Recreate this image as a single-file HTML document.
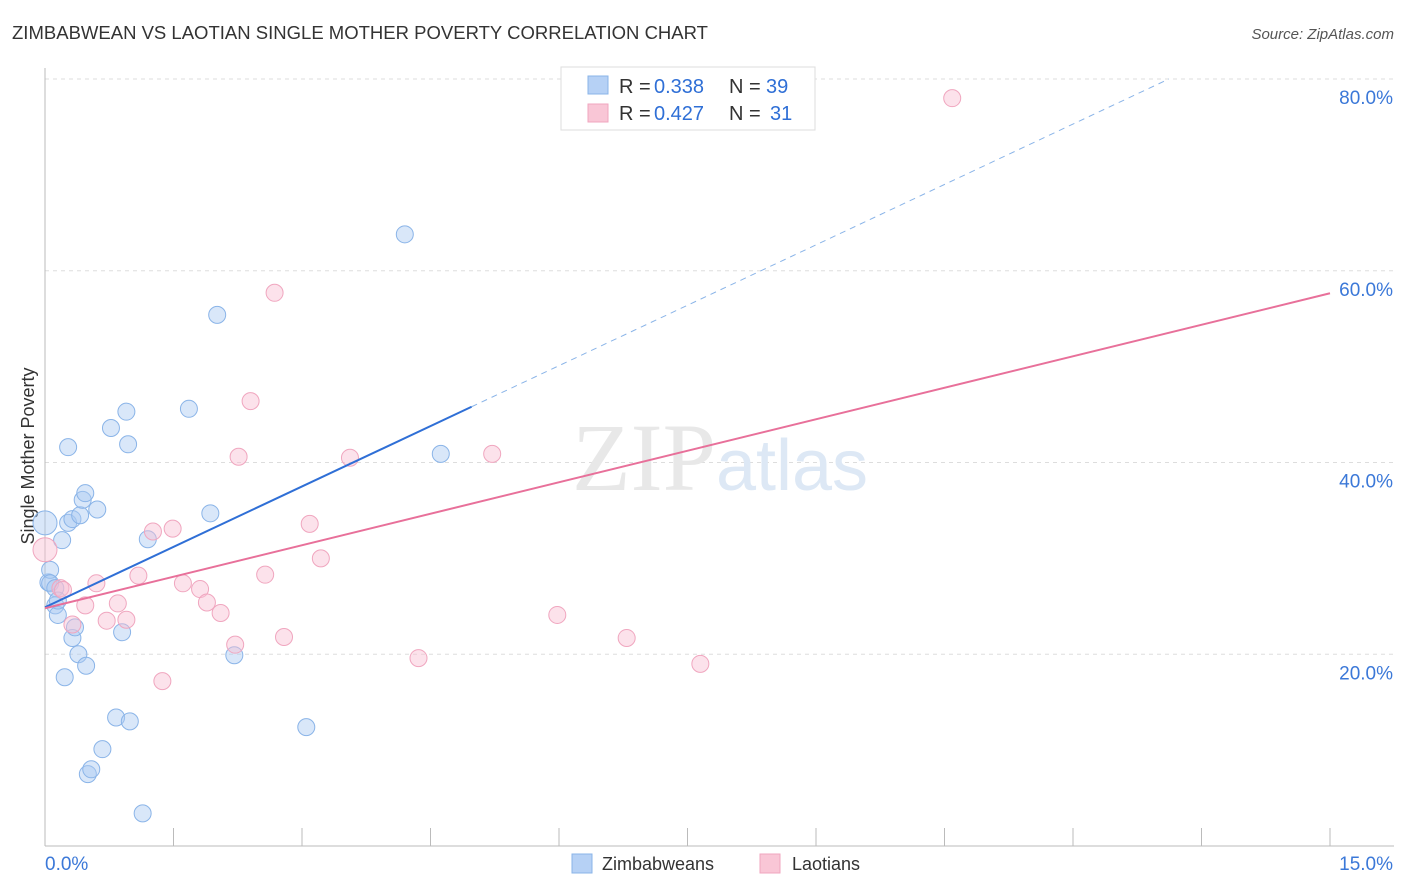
<!DOCTYPE html>
<html><head><meta charset="utf-8"><style>
body{margin:0;background:#fff;font-family:"Liberation Sans",sans-serif;}
</style></head><body>
<svg id="chart" width="1406" height="892" xmlns="http://www.w3.org/2000/svg" style="display:block" font-family="Liberation Sans, sans-serif">
<text x="12" y="39" font-size="18" fill="#333" textLength="696" lengthAdjust="spacingAndGlyphs">ZIMBABWEAN VS LAOTIAN SINGLE MOTHER POVERTY CORRELATION CHART</text>
<text x="1394" y="39" font-size="15" fill="#555" text-anchor="end" font-style="italic">Source: ZipAtlas.com</text>
<g id="grid"></g>
<text x="720" y="490" font-size="96" text-anchor="middle" fill="#e8e8e8" font-family="Liberation Serif, serif">ZIP<tspan fill="#dde8f5" font-family="Liberation Sans, sans-serif" font-size="72">atlas</tspan></text>
<text transform="translate(34,456) rotate(-90)" font-size="18" fill="#333" text-anchor="middle">Single Mother Poverty</text>
<g id="marks"></g>
<g>
<rect x="561" y="67" width="254" height="63" fill="#fff" stroke="#ddd"/>
<rect x="588" y="76" width="20" height="18" fill="#b6d1f5" stroke="#8ab4e8"/>
<rect x="588" y="104" width="20" height="18" fill="#f9c6d6" stroke="#f0a6bf"/>
<text x="619" y="93" font-size="20" fill="#333">R =</text>
<text x="654" y="93" font-size="20" fill="#2f6fd6">0.338</text>
<text x="729" y="93" font-size="20" fill="#333">N =</text>
<text x="766" y="93" font-size="20" fill="#2f6fd6">39</text>
<text x="619" y="120" font-size="20" fill="#333">R =</text>
<text x="654" y="120" font-size="20" fill="#2f6fd6">0.427</text>
<text x="729" y="120" font-size="20" fill="#333">N =</text>
<text x="770" y="120" font-size="20" fill="#2f6fd6">31</text>
</g>
<g>
<rect x="572" y="854" width="20" height="19" fill="#b6d1f5" stroke="#8ab4e8"/>
<text x="602" y="870" font-size="18" fill="#333">Zimbabweans</text>
<rect x="760" y="854" width="20" height="19" fill="#f9c6d6" stroke="#f0a6bf"/>
<text x="792" y="870" font-size="18" fill="#333">Laotians</text>
</g>
</svg>
<script>
const xTicks=[0,1.5,3,4.5,6,7.5,9,10.5,12,13.5,15];
const yTicks=[20,40,60,80];
const yTickLabels=["20.0%","40.0%","60.0%","80.0%"];
const zimX=[0,0.04,0.06,0.06,0.12,0.12,0.15,0.15,0.2,0.23,0.27,0.27,0.32,0.32,0.35,0.39,0.41,0.44,0.47,0.48,0.5,0.54,0.61,0.67,0.77,0.83,0.9,0.95,0.97,0.99,1.14,1.2,1.68,1.93,2.01,2.21,3.05,4.2,4.62];
const zimY=[33.7,27.5,28.8,27.4,26.9,25.1,24.1,25.6,31.9,17.6,41.6,33.7,34.1,21.7,22.8,20.0,34.5,36.1,36.8,18.8,7.5,8.0,35.1,10.1,43.6,13.4,22.3,45.3,41.9,13.0,3.4,32.0,45.6,34.7,55.4,19.9,12.4,63.8,40.9];
const laoX=[0,0.18,0.21,0.32,0.47,0.6,0.72,0.85,0.95,1.09,1.26,1.37,1.49,1.61,1.81,1.89,2.05,2.22,2.26,2.4,2.57,2.68,2.79,3.09,3.22,3.56,4.36,5.22,5.98,6.79,7.65,10.59];
const laoY=[30.9,26.9,26.7,23.1,25.1,27.4,23.5,25.3,23.6,28.2,32.8,17.2,33.1,27.4,26.8,25.4,24.3,21.0,40.6,46.4,28.3,57.7,21.8,33.6,30.0,40.5,19.6,40.9,24.1,21.7,19.0,78.0];
const zimTrend=[24.9,4.2];
const laoTrend=[24.8,2.19];
const X=v=>45+v*1285/15, Y=v=>846-v*191.75/20;
const NS="http://www.w3.org/2000/svg";
const grid=document.getElementById('grid'), marks=document.getElementById('marks');
function mk(tag,attrs,parent){const e=document.createElementNS(NS,tag);for(const k in attrs)e.setAttribute(k,attrs[k]);parent.appendChild(e);return e;}
yTicks.forEach((t,i)=>{
 const l=mk('line',{x1:45,x2:1394,y1:Y(t),y2:Y(t),stroke:'#ddd','stroke-dasharray':'4,4'},grid);
 
 
 const tx=mk('text',{x:1393,y:Y(t)+25,'font-size':19,fill:'#3b78d8','text-anchor':'end'},grid);
 tx.textContent=yTickLabels[i];
 
 
});
mk('line',{x1:45,x2:1394,y1:846,y2:846,stroke:'#bbb'},grid);
mk('line',{x1:45,x2:45,y1:68,y2:846,stroke:'#bbb'},grid);
xTicks.forEach(t=>{const l=mk('line',{x1:X(t),x2:X(t),y1:828,y2:846,stroke:'#bbb'},grid);
 
 });
const x0=mk('text',{x:45,y:870,'font-size':19,fill:'#3b78d8'},grid);x0.textContent='0.0%';
const x1=mk('text',{x:1393,y:870,'font-size':19,fill:'#3b78d8','text-anchor':'end'},grid);x1.textContent='15.0%';
function dots(xs,ys,fill,stroke,name){xs.forEach((x,i)=>{
 const r=(x===0)?12:8.5;
 const c=mk('circle',{cx:X(x),cy:Y(ys[i]),r:r,fill:fill,stroke:stroke,'stroke-width':1},marks);
 
 
});}
dots(zimX,zimY,'rgba(170,202,242,0.45)','#8ab4e8','zimbabwean-point');
dots(laoX,laoY,'rgba(248,190,210,0.45)','#f0a6bf','laotian-point');
const zEnd=(80-zimTrend[0])/zimTrend[1];
let l1=mk('line',{x1:X(0),y1:Y(zimTrend[0]),x2:X(4.98),y2:Y(zimTrend[0]+zimTrend[1]*4.98),stroke:'#2f6fd6','stroke-width':2},marks);


let l2=mk('line',{x1:X(4.98),y1:Y(zimTrend[0]+zimTrend[1]*4.98),x2:X(zEnd),y2:Y(80),stroke:'#8ab4e8','stroke-width':1,'stroke-dasharray':'6,5'},marks);


let l3=mk('line',{x1:X(0),y1:Y(laoTrend[0]),x2:X(15),y2:Y(laoTrend[0]+laoTrend[1]*15),stroke:'#e8709a','stroke-width':2},marks);


</script>
</body></html>
